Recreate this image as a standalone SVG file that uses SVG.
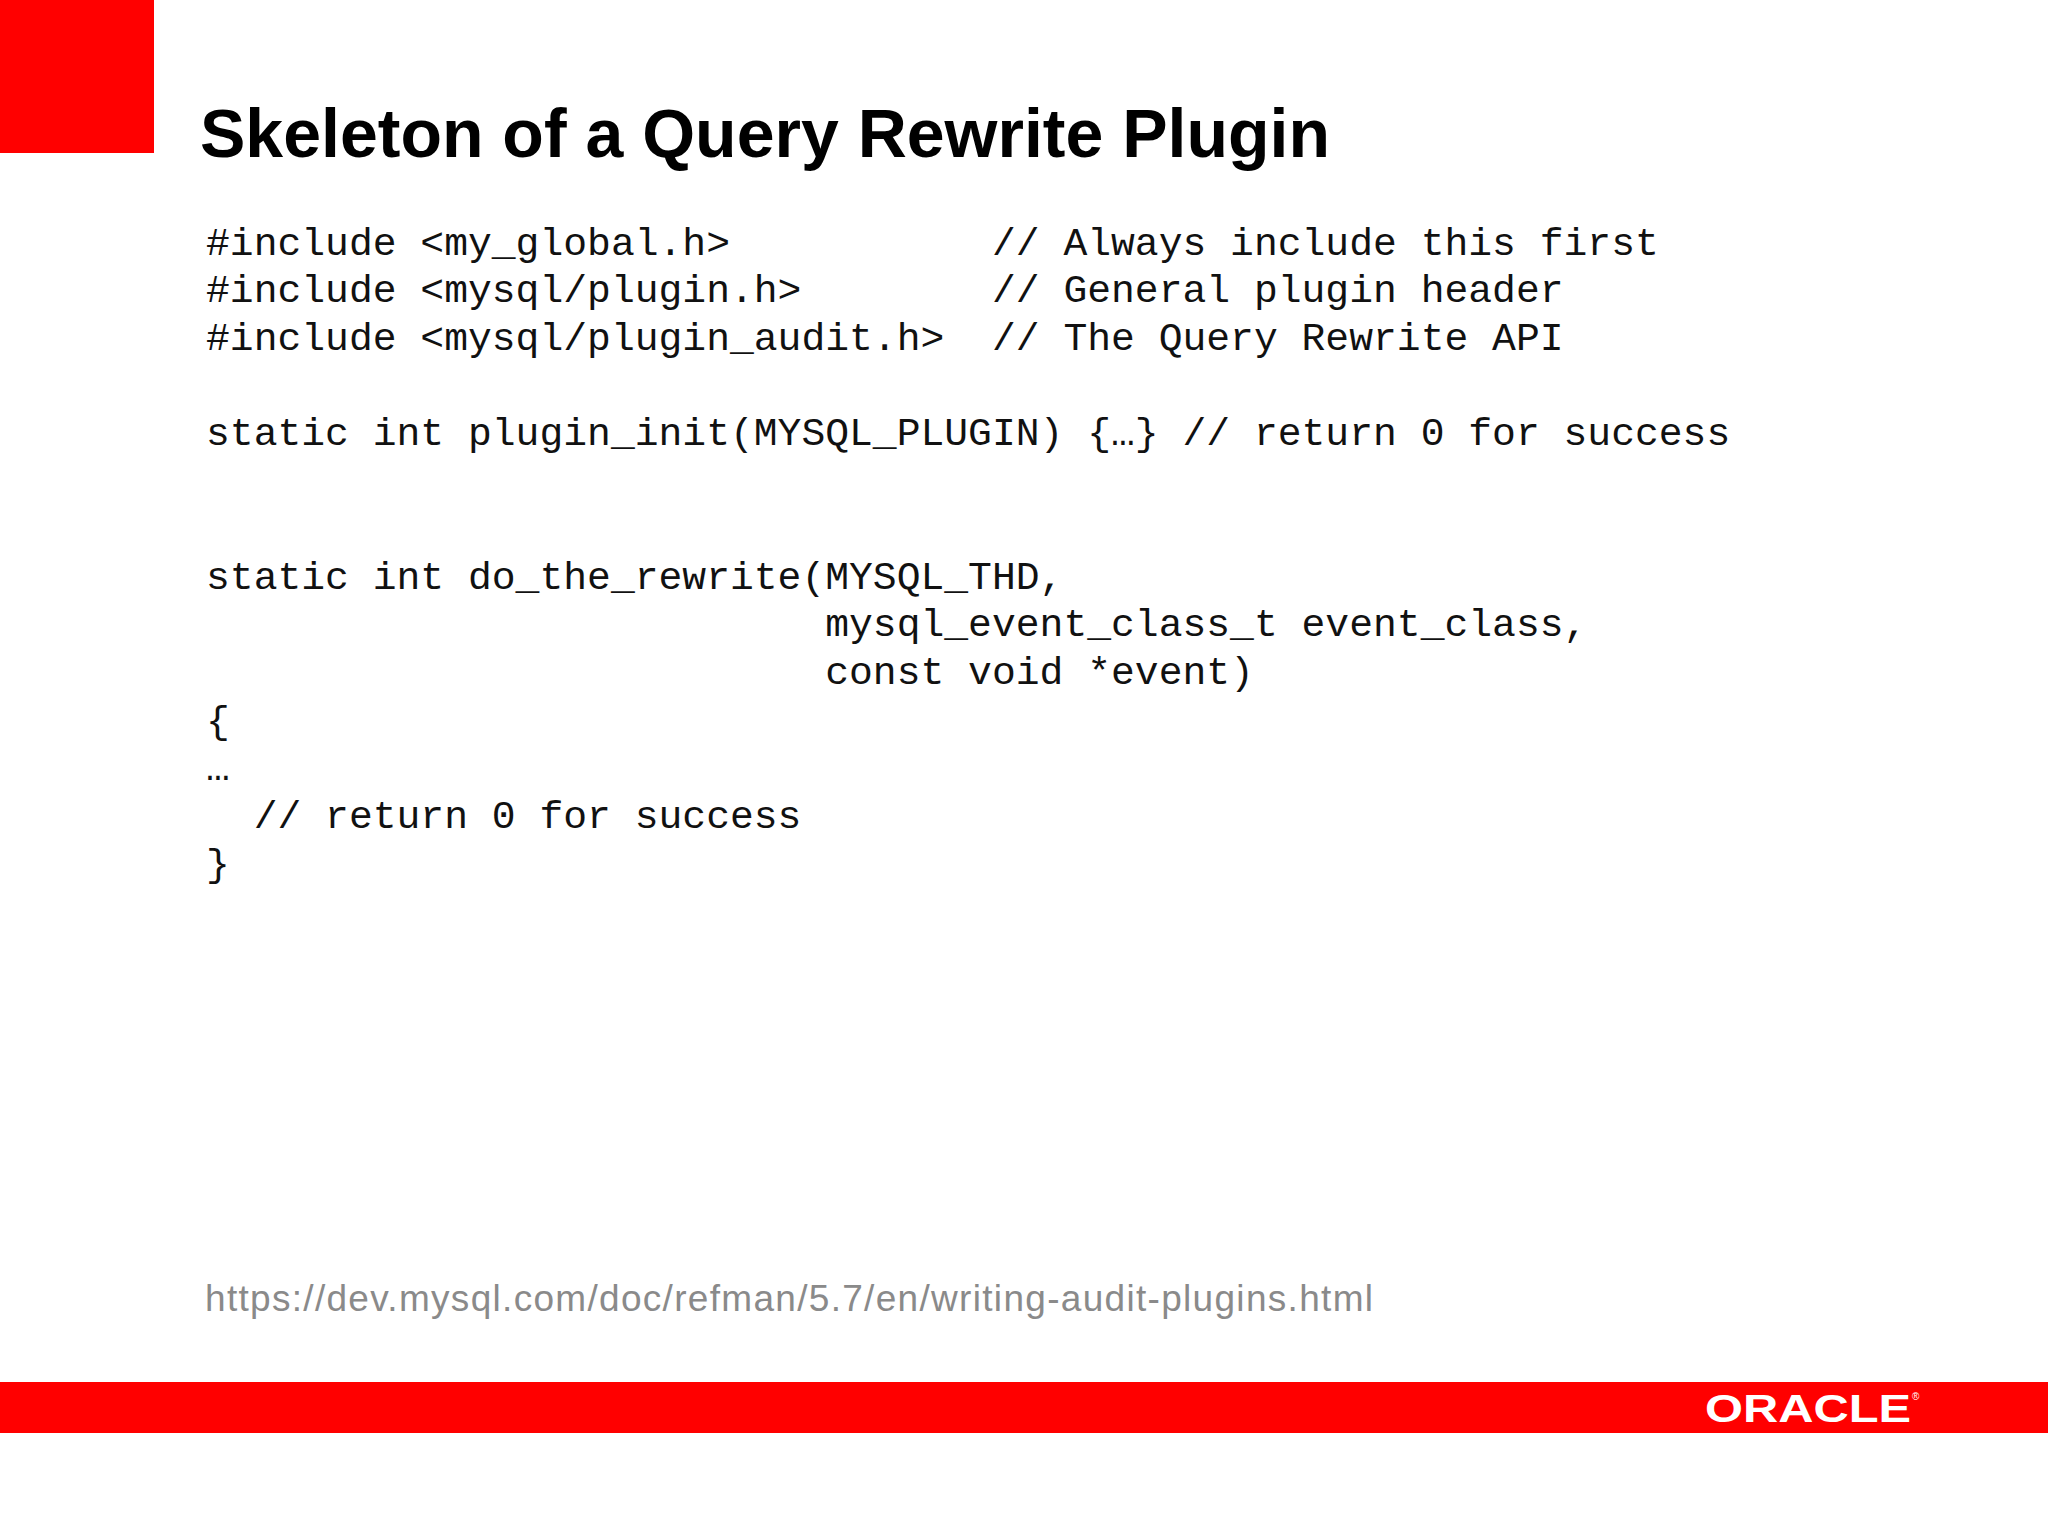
<svg xmlns="http://www.w3.org/2000/svg" width="2048" height="1536" viewBox="0 0 2048 1536">
<style>
.code{font-family:"Liberation Mono","Courier New",monospace;font-size:39.7px;fill:#111;white-space:pre}
</style>
<rect width="2048" height="1536" fill="#fff"/>
<rect x="0" y="0" width="154" height="153" fill="#ff0000"/>
<text x="200" y="157" font-family="Liberation Sans, Arial, sans-serif" font-weight="bold" font-size="68" fill="#000" textLength="1130">Skeleton of a Query Rewrite Plugin</text>
<g id="code" xml:space="preserve">
<text class="code" x="206" y="255">#include &lt;my_global.h&gt;           // Always include this first</text>
<text class="code" x="206" y="302">#include &lt;mysql/plugin.h&gt;        // General plugin header</text>
<text class="code" x="206" y="350">#include &lt;mysql/plugin_audit.h&gt;  // The Query Rewrite API</text>
<text class="code" x="206" y="445">static int plugin_init(MYSQL_PLUGIN) {…} // return 0 for success</text>
<text class="code" x="206" y="589">static int do_the_rewrite(MYSQL_THD,</text>
<text class="code" x="206" y="636">                          mysql_event_class_t event_class,</text>
<text class="code" x="206" y="684">                          const void *event)</text>
<text class="code" x="206" y="733">{</text>
<text class="code" x="206" y="780">…</text>
<text class="code" x="206" y="828">  // return 0 for success</text>
<text class="code" x="206" y="876">}</text>
</g>
<text x="205" y="1311" font-family="Liberation Sans, Arial, sans-serif" font-size="37" fill="#8a8a8a" textLength="1168">https://dev.mysql.com/doc/refman/5.7/en/writing-audit-plugins.html</text>
<rect x="0" y="1382" width="2048" height="51" fill="#ff0000"/>
<text x="1705" y="1422" font-family="Liberation Sans, Arial, sans-serif" font-weight="bold" font-size="38" fill="#fff" textLength="206" lengthAdjust="spacingAndGlyphs">ORACLE</text>
<text x="1912" y="1400" font-family="Liberation Sans, Arial, sans-serif" font-size="10" fill="#fff">®</text>
</svg>
